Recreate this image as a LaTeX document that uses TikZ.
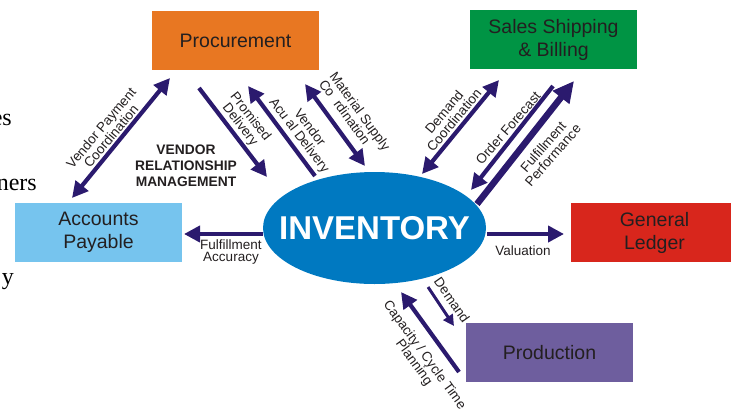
\documentclass[tikz,border=0pt]{standalone}
\usepackage{fontspec}
\setmainfont{Liberation Sans}
\newfontfamily\serifface{Liberation Serif}
\usetikzlibrary{arrows.meta,shapes.geometric}
\definecolor{navy}{RGB}{43,26,110}
\definecolor{txt}{RGB}{35,31,32}
\definecolor{procorange}{RGB}{232,119,34}
\definecolor{salesgreen}{RGB}{0,148,68}
\definecolor{apblue}{RGB}{118,196,238}
\definecolor{glred}{RGB}{216,38,28}
\definecolor{prodpurple}{RGB}{110,94,158}
\definecolor{invblue}{RGB}{0,121,193}
\begin{document}
\begin{tikzpicture}[x=1pt,y=-1pt,
  box/.style={draw=none, minimum width=167pt, minimum height=59pt, inner sep=0pt,
    font=\fontsize{19.5}{23}\selectfont, text=txt, align=center},
  flow/.style={line width=4.2pt, draw=navy, -{Triangle[length=16pt,width=16pt]}},
  flowboth/.style={line width=4.2pt, draw=navy, {Triangle[length=16pt,width=16pt]}-{Triangle[length=16pt,width=16pt]}},
  flowthick/.style={line width=6.5pt, draw=navy, -{Triangle[length=21pt,width=20pt]}},
  flowthin/.style={line width=3pt, draw=navy, -{Triangle[length=11pt,width=11pt]}},
  lbl/.style={font=\fontsize{13.5}{13}\selectfont, text=txt, align=center, inner sep=0pt},
  stray/.style={font=\serifface\fontsize{24}{24}\selectfont, text=black, inner sep=0pt, anchor=base east}
]
\useasboundingbox (0,0) rectangle (731,413);
\clip (0,0) rectangle (731,413);

% stray slide text at left edge
\node[stray] (s1) at (12,125) {es};
\node[stray] (s2) at (37,190) {ners};
\node[stray] (s3) at (14,284) {y};

% boxes
\node[box, fill=procorange] (proc) at (235.5,40.5) {Procurement};
\node[box, fill=salesgreen] (sales) at (553.5,39.5) {Sales Shipping\\\& Billing};
\node[box, fill=apblue] (ap) at (98.5,232.5) {Accounts\\Payable};
\node[box, fill=glred] (gl) at (654.5,232.5) {General\\Ledger};
\node[box, fill=prodpurple] (prod) at (549.5,352.5) {Production};

% inventory ellipse
\node[ellipse, fill=invblue, minimum width=223pt, minimum height=112pt, inner sep=0pt] (inv) at (374.5,228) {};
\node[text=white, inner sep=0pt, font=\bfseries\fontsize{33}{33}\selectfont] (invtext) at (inv.center) {INVENTORY};

% arrow end points
\coordinate (a1s) at (72,198);  \coordinate (a1e) at (170,78);
\coordinate (a2s) at (199,88);  \coordinate (a2e) at (267,177);
\coordinate (a3s) at (315,176); \coordinate (a3e) at (248,86);
\coordinate (a4s) at (305,84);  \coordinate (a4e) at (365,166);
\coordinate (a5s) at (422,174); \coordinate (a5e) at (499,80);
\coordinate (a6s) at (553,86);  \coordinate (a6e) at (471,190);
\coordinate (a7s) at (477,204); \coordinate (a7e) at (574,81);
\coordinate (a8s) at (263,234); \coordinate (a8e) at (184,234);
\coordinate (a9s) at (487,234); \coordinate (a9e) at (564,234);
\coordinate (a10s) at (428,287); \coordinate (a10e) at (454,326);
\coordinate (a11s) at (459,372); \coordinate (a11e) at (401,292);

\draw[flowboth] (a1s) -- (a1e);
\draw[flow] (a2s) -- (a2e);
\draw[flow] (a3s) -- (a3e);
\draw[flowboth] (a4s) -- (a4e);
\draw[flowboth] (a5s) -- (a5e);
\draw[flow] (a6s) -- (a6e);
\draw[flowthick] (a7s) -- (a7e);
\draw[flow] (a8s) -- (a8e);
\draw[flow] (a9s) -- (a9e);
\draw[flowthin] (a10s) -- (a10e);
\draw[flow] (a11s) -- (a11e);

% labels
\node[lbl, rotate=50] (l1) at (106,132) {Vendor Payment\\Coordination};
\node[lbl, rotate=-52] (l2) at (245,121) {Promised\\Delivery};
\node[lbl, rotate=-53] (l3) at (304,132) {Vendor\\Acu al Delivery};
\node[lbl, rotate=-54, align=left] (l4) at (355,115) {Material Supply\\Co\phantom{o}rdination};
\node[lbl, rotate=50] (l5) at (449,116) {Demand\\Coordination};
\node[lbl, rotate=49] (l6) at (508,128) {Order Forecast};
\node[lbl, rotate=49] (l7) at (548,151) {Fulfillment\\Performance};
\node[lbl, font=\fontsize{13.5}{12}\selectfont] (l8) at (231,252) {Fulfillment\\Accuracy};
\node[lbl] (l9) at (523,251) {Valuation};
\node[lbl, rotate=-55] (l10) at (452,300) {Demand};
\node[lbl, rotate=-54] (l11) at (419,359) {Capacity / Cycle Time\\Planning};
\node[font=\bfseries\fontsize{13.8}{16}\selectfont, text=txt, align=center, inner sep=0pt] (vrm) at (186,166) {VENDOR\\RELATIONSHIP\\MANAGEMENT};
\end{tikzpicture}
\end{document}
